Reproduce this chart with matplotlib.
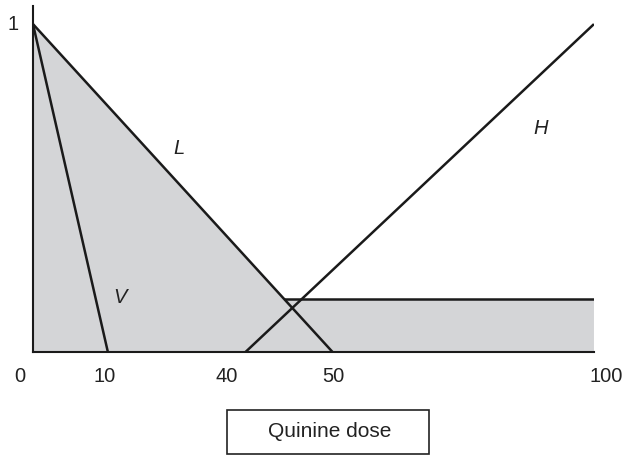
import numpy as np
import matplotlib.pyplot as plt
from matplotlib.patches import Rectangle

plt.rcParams['font.family'] = ['Liberation Sans', 'DejaVu Sans']

# schematic dose axis: dose values and where they sit along the axis (0..1)
axis_doses = [0, 10, 40, 50, 100]
axis_frac = [0, 0.1337, 0.3779, 0.5348, 1.0]

tick_doses = [0, 10, 40, 50, 100]
tick_labels = ["0", "10", "40", "50", "100"]
tick_shift = [-13, -3, -18, 0, 12]  # pixel nudges of the labels

# response curves (dose, level)
v_curve = ([0, 10], [1, 0])
l_curve = ([0, 50], [1, 0])
h_curve = ([40, 100], [0, 1])
plateau_start = 44.4
plateau_level = 0.163

curve_names = ["V", "L", "H"]
name_pos = [(12.7, 0.172), (25.5, 0.625), (89.7, 0.686)]


def fwd(x):
    return np.interp(x, axis_doses, axis_frac)


def inv(x):
    return np.interp(x, axis_frac, axis_doses)


fig = plt.figure(figsize=(6.27, 4.56), dpi=100)
ax = fig.add_axes([0.0526, 0.2248, 0.8947, 0.7598])
ax.set_xscale("function", functions=(fwd, inv))
ax.set_xlim(0, 100)
ax.set_ylim(0, 1.055)

# shaded region under L and the plateau
ax.fill([0, 0, plateau_start, 100, 100], [0, 1, plateau_level, plateau_level, 0],
        color="#d4d5d7", lw=0, zorder=1)

line_kw = dict(color="#1a1a1a", lw=1.8, solid_capstyle="butt", zorder=3)
ax.plot(*v_curve, **line_kw)
ax.plot(*l_curve, **line_kw)
ax.plot(*h_curve, **line_kw)
ax.plot([plateau_start, 100], [plateau_level, plateau_level], **line_kw)

for name, (x, y) in zip(curve_names, name_pos):
    ax.text(x, y, name, fontsize=14.5, style="italic", ha="center", va="center",
            color="#222222")

for d, lbl, dx in zip(tick_doses, tick_labels, tick_shift):
    ax.annotate(lbl, xy=(d, 0), xytext=(dx, -23), textcoords="offset pixels",
                ha="center", va="center", fontsize=14.5, color="#222222")
ax.annotate("1", xy=(0, 1), xytext=(-20, 1), textcoords="offset pixels",
            ha="center", va="center", fontsize=14.5, color="#222222")

ax.set_xticks([])
ax.set_yticks([])
for side in ["top", "right"]:
    ax.spines[side].set_visible(False)
for side in ["left", "bottom"]:
    ax.spines[side].set_linewidth(1.5)
    ax.spines[side].set_color("#1a1a1a")
ax.spines["left"].set_zorder(4)

# axis caption in a box below the chart
fig.patches.append(Rectangle((227 / 627, 1 / 456), 202 / 627, 44 / 456,
                             transform=fig.transFigure, fill=False,
                             edgecolor="#222222", lw=1.2))
fig.text(330 / 627, 24 / 456, "Quinine dose", ha="center", va="center",
         fontsize=15, color="#222222")

fig.savefig("out.png", dpi=100)
